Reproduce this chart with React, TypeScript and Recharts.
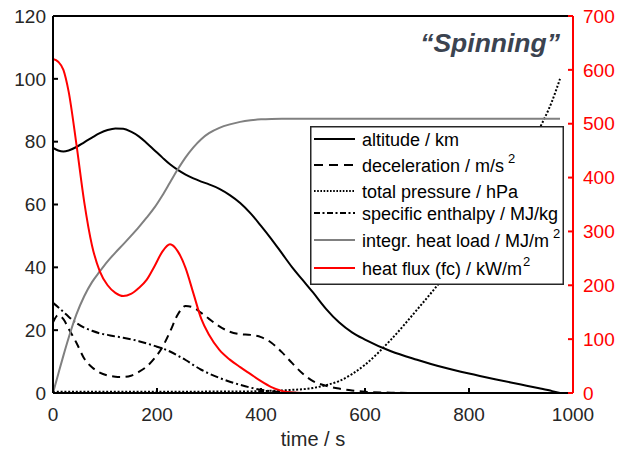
import { LineChart, Line, XAxis, YAxis, Legend } from "recharts";

// time / s
const time = [
  0, 10, 20, 30, 45, 60, 75, 90, 105, 120, 135, 150, 165, 180, 195, 210, 225,
  240, 255, 270, 285, 300, 320, 340, 360, 380, 400, 420, 440, 460, 480, 500,
  525, 550, 575, 600, 650, 700, 750, 800, 850, 900, 935, 960, 975,
];

// altitude / km
const altitude = [
  78, 77.2, 76.9, 77.2, 78.3, 79.8, 81.3, 82.7, 83.7, 84.2, 84.1, 83.2, 81.7,
  79.6, 77.3, 75, 72.8, 71, 69.5, 68.3, 67.3, 66.4, 65, 63, 60.5, 57.2, 53.2,
  49, 44.5, 40, 36, 32, 26.8, 22.5, 19.3, 17, 13.3, 10.6, 8.2, 6.2, 4.4, 2.7,
  1.5, 0.6, 0,
];

// deceleration / m/s^2
const deceleration = [
  22.5, 24.8, 23.5, 20.5, 16, 11, 8.2, 6.5, 5.6, 5.2, 5.1, 5.5, 6.7, 8.4, 11,
  14.5, 19.5, 25, 27.7, 27.2, 25.5, 23.6, 21.2, 19.5, 18.7, 18.5, 17.8, 16, 13,
  9.5, 6.2, 3.8, 2.3, 1.4, 0.8, 0.4, 0.1, 0, 0, 0, 0, 0, 0, 0, 0,
];

// total pressure / hPa
const pressure = [
  0.4, 0.4, 0.4, 0.4, 0.4, 0.4, 0.4, 0.4, 0.4, 0.4, 0.4, 0.4, 0.4, 0.4, 0.4,
  0.4, 0.4, 0.4, 0.4, 0.4, 0.4, 0.5, 0.5, 0.5, 0.5, 0.5, 0.6, 0.7, 0.8, 1,
  1.2, 1.6, 2.5, 3.8, 6, 9, 17, 26.5, 36.5, 47.5, 59.5, 73, 84, 93, 100,
];

// specific enthalpy / MJ/kg
const enthalpy = [
  28.7, 27.3, 25.8, 24.3, 22.3, 20.8, 19.8, 19, 18.5, 18, 17.6, 17.1, 16.5,
  15.8, 15, 14.2, 13.2, 11.9, 10.5, 8.9, 7.4, 6.2, 4.8, 3.6, 2.6, 1.7, 1, 0.6,
  0.3, 0.1, 0, 0, 0, 0, 0, 0, 0, 0, 0, 0, 0, 0, 0, 0, 0,
];

// integr. heat load / MJ/m^2
const heatLoad = [
  0, 6, 11.9, 17.5, 25, 30.8, 35.3, 38.7, 41.9, 44.7, 47.3, 50, 52.8, 55.8, 59,
  62.8, 67, 71.2, 75, 78.2, 80.8, 82.7, 84.4, 85.5, 86.3, 86.8, 87.1, 87.25,
  87.3, 87.3, 87.3, 87.3, 87.3, 87.3, 87.3, 87.3, 87.3, 87.3, 87.3, 87.3, 87.3,
  87.3, 87.3, 87.3, 87.3,
];

// heat flux (fc) / kW/m^2  (right axis)
const heatFlux = [
  620, 615, 600, 560, 462, 355, 274, 226, 200, 186, 180, 184, 195, 210, 235,
  262, 276, 263, 232, 185, 138, 108, 80, 62, 48, 35, 22, 11, 4, 1, 0.2, 0, 0,
  0, 0, 0, 0, 0, 0, 0, 0, 0, 0, 0, 0,
];

const xTicks = [0, 200, 400, 600, 800, 1000];
const topTicks = [200, 400, 600, 800];
const leftTicks = [0, 20, 40, 60, 80, 100, 120];
const rightTicks = [0, 100, 200, 300, 400, 500, 600, 700];

const legendLabels = [
  { text: "altitude / km", sup: "" },
  { text: "deceleration / m/s", sup: "2" },
  { text: "total pressure / hPa", sup: "" },
  { text: "specific enthalpy / MJ/kg", sup: "" },
  { text: "integr. heat load / MJ/m", sup: "2" },
  { text: "heat flux (fc) / kW/m", sup: "2" },
];

const data = time.map((t, i) => ({
  t,
  altitude: altitude[i],
  deceleration: deceleration[i],
  pressure: pressure[i],
  enthalpy: enthalpy[i],
  heatLoad: heatLoad[i],
  heatFlux: heatFlux[i],
}));

const FONT = '"Liberation Sans", Arial, Helvetica, sans-serif';
const AXIS_TEXT = "#262626";
const DASH = "8 5.5";
const DOT = "2 1.8";
const DASHDOT = "8 3 2 3";

// legend line styles, same order as legendLabels
const legendStyles = [
  { stroke: "#000", dash: undefined },
  { stroke: "#000", dash: "9 6" },
  { stroke: "#000", dash: "1.6 1.6" },
  { stroke: "#000", dash: "6 2.5 2 2.5" },
  { stroke: "#808080", dash: undefined },
  { stroke: "#ff0000", dash: undefined },
];
const rowY = [13, 39, 65, 87, 114, 142];

const LegendBox = () => (
  <svg width={254} height={159} style={{ display: "block" }}>
    <rect x={0.75} y={0.75} width={252.5} height={157.5} fill="#fff" stroke="#262626" strokeWidth={1.5} />
    {legendLabels.map((item, i) => (
      <g key={item.text}>
        <line
          x1={4}
          x2={45}
          y1={rowY[i]}
          y2={rowY[i]}
          stroke={legendStyles[i].stroke}
          strokeWidth={2}
          strokeDasharray={legendStyles[i].dash}
        />
        <text x={52} y={rowY[i] + 7} fontSize={18} fill="#000" fontFamily={FONT}>
          {item.text}
          {item.sup && (
            <tspan dx={i === 5 ? 1 : 4} dy={-9} fontSize={13}>
              {item.sup}
            </tspan>
          )}
        </text>
      </g>
    ))}
  </svg>
);

const App = () => {
  return (
    <div style={{ position: "absolute", left: 0, top: 0, width: 617, height: 452, background: "#fff" }}>
      <LineChart
        width={617}
        height={452}
        data={data}
        margin={{ top: 15, right: 0, bottom: 0, left: 8 }}
        style={{ fontFamily: FONT }}
      >
        <XAxis
          xAxisId="b"
          dataKey="t"
          type="number"
          domain={[0, 1000]}
          ticks={xTicks}
          height={59}
          tickSize={-5}
          tickMargin={20}
          stroke="#000"
          strokeWidth={2}
          tick={{ fill: AXIS_TEXT, fontSize: 19 }}
          label={{ value: "time / s", position: "insideBottom", offset: 6, fill: AXIS_TEXT, fontSize: 20 }}
        />
        <XAxis
          xAxisId="top"
          orientation="top"
          dataKey="t"
          type="number"
          domain={[0, 1000]}
          ticks={topTicks}
          height={1}
          tickSize={-5}
          tick={false}
          stroke="#000"
          strokeWidth={2}
        />
        <YAxis
          yAxisId="l"
          domain={[0, 120]}
          ticks={leftTicks}
          width={45}
          tickSize={-5}
          tickMargin={12}
          stroke="#000"
          strokeWidth={2}
          tick={{ fill: AXIS_TEXT, fontSize: 19 }}
        />
        <YAxis
          yAxisId="r"
          orientation="right"
          domain={[0, 700]}
          ticks={rightTicks}
          width={44}
          tickSize={-5}
          tickMargin={15}
          stroke="#ff0000"
          strokeWidth={2}
          tick={{ fill: "#ff0000", fontSize: 19 }}
        />
        <Line xAxisId="b" yAxisId="l" dataKey="altitude" type="monotone" stroke="#000" strokeWidth={2} dot={false} isAnimationActive={false} />
        <Line xAxisId="b" yAxisId="l" dataKey="deceleration" type="monotone" stroke="#000" strokeWidth={2} strokeDasharray={DASH} dot={false} isAnimationActive={false} />
        <Line xAxisId="b" yAxisId="l" dataKey="pressure" type="monotone" stroke="#000" strokeWidth={2} strokeDasharray={DOT} dot={false} isAnimationActive={false} />
        <Line xAxisId="b" yAxisId="l" dataKey="enthalpy" type="monotone" stroke="#000" strokeWidth={2} strokeDasharray={DASHDOT} dot={false} isAnimationActive={false} />
        <Line xAxisId="b" yAxisId="l" dataKey="heatLoad" type="monotone" stroke="#808080" strokeWidth={2} dot={false} isAnimationActive={false} />
        <Line xAxisId="b" yAxisId="r" dataKey="heatFlux" type="monotone" stroke="#ff0000" strokeWidth={2} dot={false} isAnimationActive={false} />
        <Legend
          layout="vertical"
          align="center"
          verticalAlign="middle"
          content={() => <LegendBox />}
          wrapperStyle={{ left: 310, top: 126, width: 254, height: 159 }}
        />
      </LineChart>
      <div
        style={{
          position: "absolute",
          right: 57,
          top: 30,
          fontFamily: FONT,
          fontSize: 26.5,
          lineHeight: "26px",
          fontWeight: "bold",
          fontStyle: "italic",
          color: "#3b4350",
        }}
      >
        “Spinning”
      </div>
    </div>
  );
};

export default App;
